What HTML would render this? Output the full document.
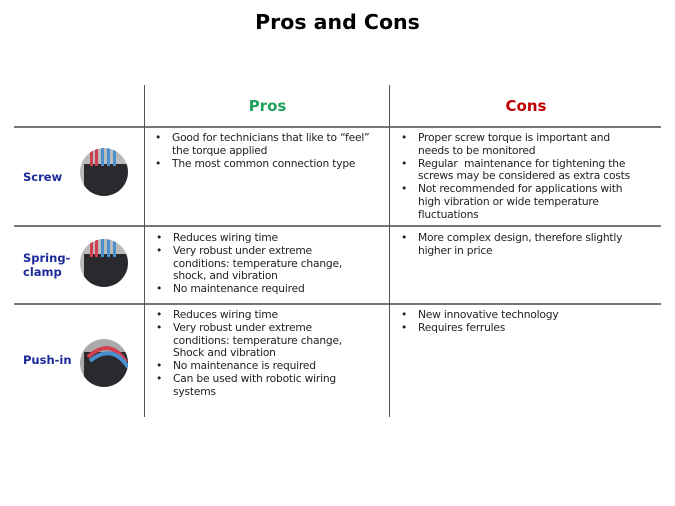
<!DOCTYPE html>
<html><head><meta charset="utf-8"><style>
body{margin:0;width:675px;height:506px;background:#fff;position:relative;overflow:hidden;font-family:"DejaVu Sans",sans-serif;}
.a{position:absolute}
.t{font-size:10.7px;line-height:12.8px;color:#222;white-space:nowrap;letter-spacing:-0.2px}
.t div{position:relative}
.b{position:absolute;left:-17px}
.lab{font-weight:bold;color:#1a2a9a;font-size:11.5px;line-height:14px}
.hl{position:absolute;height:2px;background:#777;left:14px;width:647px}
.vl{position:absolute;width:1px;background:#555;top:85px;height:332px}
</style></head><body>
<div class="a" style="left:0;width:675px;top:10px;text-align:center;font-weight:bold;font-size:20.5px">Pros and Cons</div>
<div class="a" style="left:145px;width:245px;top:97px;text-align:center;font-weight:bold;font-size:15px;color:#1fa25a">Pros</div>
<div class="a" style="left:391px;width:270px;top:97px;text-align:center;font-weight:bold;font-size:15px;color:#c00000">Cons</div>
<div class="hl" style="top:126px"></div>
<div class="hl" style="top:225px"></div>
<div class="hl" style="top:303px"></div>
<div class="vl" style="left:144px"></div>
<div class="vl" style="left:389px"></div>

<div class="a lab" style="left:23px;top:170px">Screw</div>
<div class="a lab" style="left:23px;top:251px">Spring-<br>clamp</div>
<div class="a lab" style="left:23px;top:353px">Push-in</div>

<svg class="a" style="left:78px;top:146px" width="52" height="52" viewBox="0 0 52 52">
<defs><clipPath id="c1"><circle cx="26" cy="26" r="24"/></clipPath></defs>
<g clip-path="url(#c1)"><rect x="0" y="0" width="52" height="52" fill="#bbb"/><rect x="6" y="18" width="46" height="34" fill="#2a2a2e"/>
<rect x="12" y="2" width="3" height="18" fill="#d04050"/><rect x="17" y="2" width="3" height="18" fill="#d04050"/><rect x="23" y="2" width="3" height="18" fill="#4a90d0"/><rect x="29" y="2" width="3" height="18" fill="#4a90d0"/><rect x="35" y="2" width="3" height="18" fill="#4a90d0"/></g>
</svg>
<svg class="a" style="left:78px;top:237px" width="52" height="52" viewBox="0 0 52 52">
<defs><clipPath id="c2"><circle cx="26" cy="26" r="24"/></clipPath></defs>
<g clip-path="url(#c2)"><rect x="0" y="0" width="52" height="52" fill="#bbb"/><rect x="6" y="17" width="46" height="35" fill="#2a2a2e"/>
<rect x="12" y="2" width="3" height="18" fill="#d04050"/><rect x="17" y="2" width="3" height="18" fill="#d04050"/><rect x="23" y="2" width="3" height="18" fill="#4a90d0"/><rect x="29" y="2" width="3" height="18" fill="#4a90d0"/><rect x="35" y="2" width="3" height="18" fill="#4a90d0"/></g>
</svg>
<svg class="a" style="left:78px;top:337px" width="52" height="52" viewBox="0 0 52 52">
<defs><clipPath id="c4"><circle cx="26" cy="26" r="24"/></clipPath></defs>
<g clip-path="url(#c4)"><rect x="0" y="0" width="52" height="52" fill="#aaa"/><rect x="6" y="15" width="46" height="37" fill="#2a2a2e"/>
<path d="M10 20 Q32 0 48 25" stroke="#d04050" stroke-width="4" fill="none"/><path d="M12 24 Q34 6 50 30" stroke="#4a90d0" stroke-width="4" fill="none"/></g>
</svg>

<div class="a t" style="left:172px;top:132px">
<div><span class="b">•</span>Good for technicians that like to “feel”<br>the torque applied</div>
<div><span class="b">•</span>The most common connection type</div></div>
<div class="a t" style="left:418px;top:132px">
<div><span class="b">•</span>Proper screw torque is important and<br>needs to be monitored</div>
<div><span class="b">•</span>Regular&nbsp; maintenance for tightening the<br>screws may be considered as extra costs</div>
<div><span class="b">•</span>Not recommended for applications with<br>high vibration or wide temperature<br>fluctuations</div></div>

<div class="a t" style="left:173px;top:232px">
<div><span class="b">•</span>Reduces wiring time</div>
<div><span class="b">•</span>Very robust under extreme<br>conditions: temperature change,<br>shock, and vibration</div>
<div><span class="b">•</span>No maintenance required</div></div>
<div class="a t" style="left:418px;top:232px">
<div><span class="b">•</span>More complex design, therefore slightly<br>higher in price</div></div>

<div class="a t" style="left:173px;top:309px">
<div><span class="b">•</span>Reduces wiring time</div>
<div><span class="b">•</span>Very robust under extreme<br>conditions: temperature change,<br>Shock and vibration</div>
<div><span class="b">•</span>No maintenance is required</div>
<div><span class="b">•</span>Can be used with robotic wiring<br>systems</div></div>
<div class="a t" style="left:418px;top:309px">
<div><span class="b">•</span>New innovative technology</div>
<div><span class="b">•</span>Requires ferrules</div></div>
</body></html>
